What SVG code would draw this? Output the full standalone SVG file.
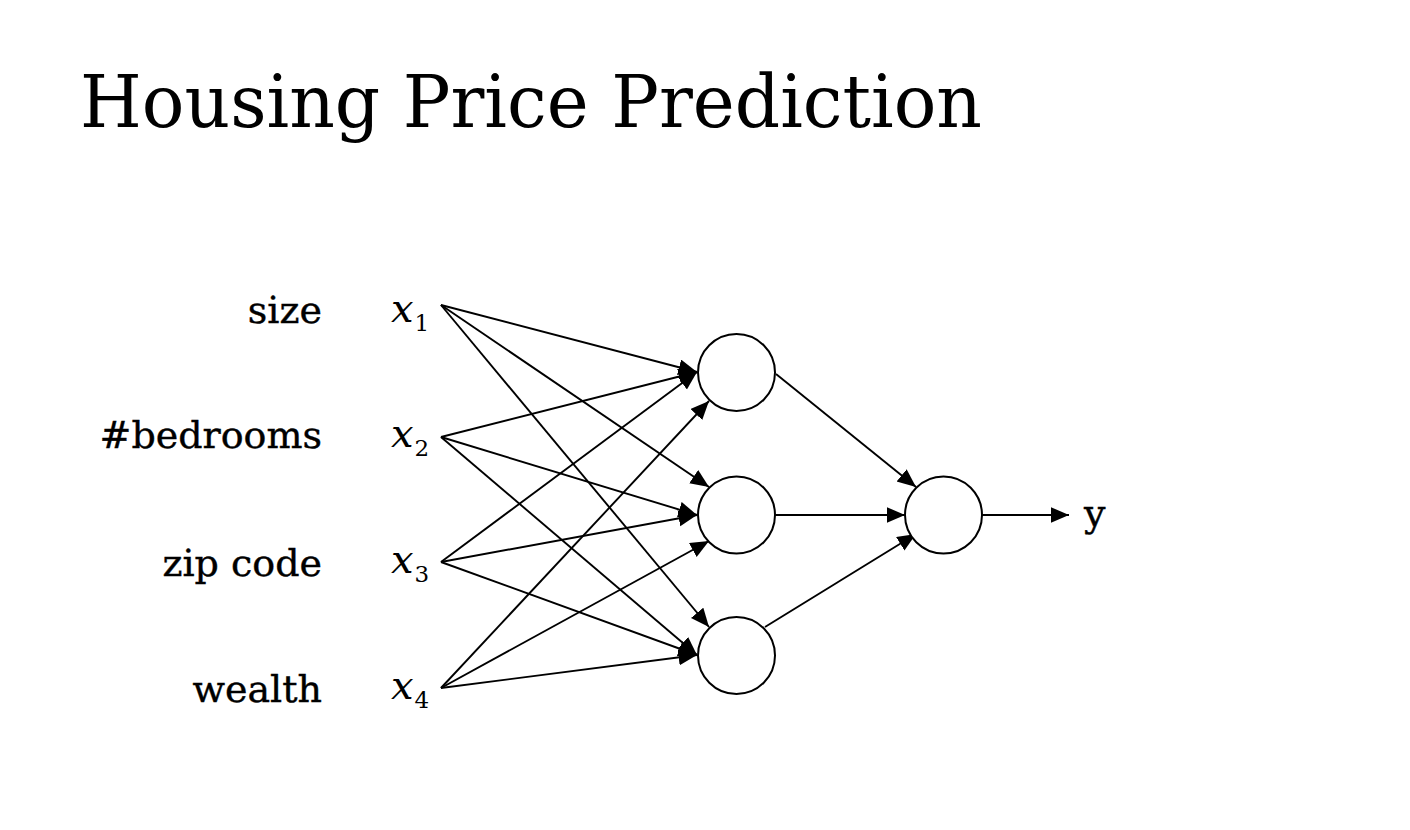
<svg xmlns="http://www.w3.org/2000/svg" width="1410" height="830" viewBox="0 0 1410 830">
<style>
.t{font-family:"DejaVu Serif","Liberation Serif",serif;fill:#000}
.lbl{font-size:38px;text-anchor:end;stroke:#000;stroke-width:0.4}
.xv{font-size:40px;font-style:italic}
.sub{font-size:23px;font-style:normal}
.node{fill:#fff;stroke:#000;stroke-width:2}
.edge{stroke:#000;stroke-width:1.9;fill:none;marker-end:url(#ah)}
</style>
<defs>
<marker id="ah" markerUnits="userSpaceOnUse" markerWidth="20" markerHeight="17" refX="18.5" refY="8" orient="auto">
<path d="M0,0 L18.5,8 L0,16 z" fill="#000"/>
</marker>
</defs>
<rect width="1410" height="830" fill="#fff"/>
<text id="title" class="t" x="80" y="127" font-size="72" textLength="902" lengthAdjust="spacingAndGlyphs">Housing Price Prediction</text>
<g id="labels">
<text class="t lbl" x="322" y="323">size</text>
<text class="t lbl" x="322" y="448">#bedrooms</text>
<text class="t lbl" x="322" y="576">zip code</text>
<text class="t lbl" x="322" y="702">wealth</text>
</g>
<g id="x1"><text class="t xv" x="391" y="322">x<tspan class="sub" dx="1" dy="9">1</tspan></text></g>
<g id="x2"><text class="t xv" x="391" y="447">x<tspan class="sub" dx="1" dy="9">2</tspan></text></g>
<g id="x3"><text class="t xv" x="391" y="573">x<tspan class="sub" dx="1" dy="9">3</tspan></text></g>
<g id="x4"><text class="t xv" x="391" y="699">x<tspan class="sub" dx="1" dy="9">4</tspan></text></g>
<g id="connectors">
<line class="edge" x1="441" y1="305" x2="697" y2="372"/>
<line class="edge" x1="441" y1="305" x2="709" y2="487"/>
<line class="edge" x1="441" y1="305" x2="709" y2="627"/>
<line class="edge" x1="441" y1="437" x2="697" y2="372"/>
<line class="edge" x1="441" y1="437" x2="697" y2="515"/>
<line class="edge" x1="441" y1="437" x2="697" y2="655"/>
<line class="edge" x1="441" y1="562" x2="697" y2="372"/>
<line class="edge" x1="441" y1="562" x2="697" y2="515"/>
<line class="edge" x1="441" y1="562" x2="697" y2="655"/>
<line class="edge" x1="441" y1="688" x2="709" y2="401"/>
<line class="edge" x1="441" y1="688" x2="709" y2="541"/>
<line class="edge" x1="441" y1="688" x2="697" y2="655"/>
<line class="edge" x1="776" y1="374" x2="916" y2="487"/>
<line class="edge" x1="775" y1="515" x2="905" y2="515"/>
<line class="edge" x1="765" y1="627" x2="916" y2="534"/>
<line class="edge" x1="982" y1="515" x2="1069" y2="515"/>
</g>
<g id="h1"><circle class="node" cx="736.5" cy="372.5" r="38.5"/></g>
<g id="h2"><circle class="node" cx="736.5" cy="515" r="38.5"/></g>
<g id="h3"><circle class="node" cx="736.5" cy="655.5" r="38.5"/></g>
<g id="out"><circle class="node" cx="943.5" cy="515" r="38.5"/></g>
<g id="y"><text class="t" x="1084" y="526" font-size="38" stroke="#000" stroke-width="0.4">y</text></g>
</svg>
